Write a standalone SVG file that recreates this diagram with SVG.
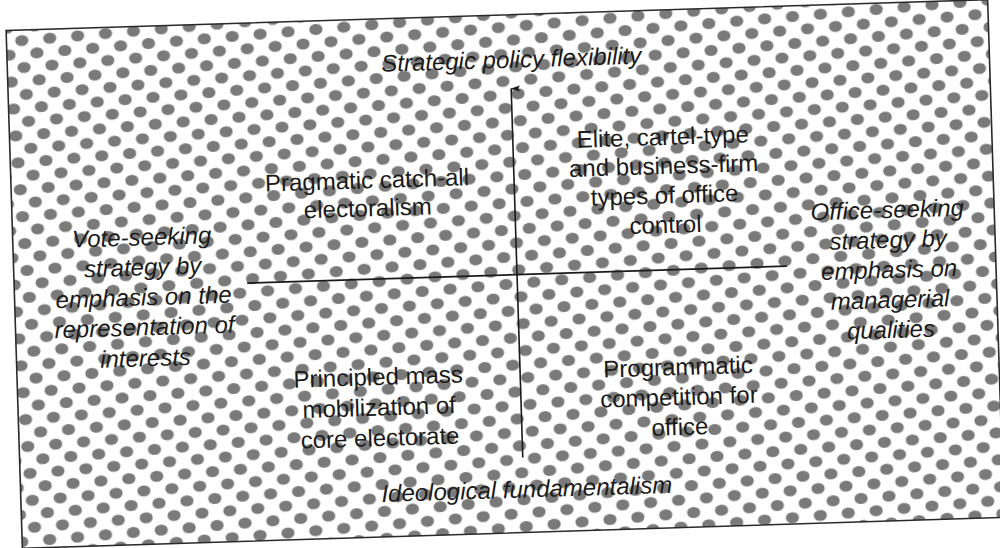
<svg xmlns="http://www.w3.org/2000/svg" width="1000" height="548" viewBox="0 0 1000 548">
  <style>
    .lbl { font-family: "Liberation Sans", Arial, sans-serif; font-size: 24px; fill: #1a1a1a; text-anchor: middle; }
    .ax { font-style: italic; }
    .axis { stroke: #1a1a1a; stroke-width: 1.6; fill: none; }
  </style>
  <defs>
    <pattern id="dots" patternUnits="userSpaceOnUse" width="28" height="27" patternTransform="rotate(-3)">
      <rect width="28" height="27" fill="#ffffff"/>
      <ellipse cx="0" cy="0" rx="6.6" ry="5.6" fill="#7a7a7a"/>
      <ellipse cx="28" cy="0" rx="6.6" ry="5.6" fill="#7a7a7a"/>
      <ellipse cx="0" cy="27" rx="6.6" ry="5.6" fill="#7a7a7a"/>
      <ellipse cx="28" cy="27" rx="6.6" ry="5.6" fill="#7a7a7a"/>
      <ellipse cx="14" cy="13.5" rx="6.6" ry="5.6" fill="#7a7a7a"/>
    </pattern>
    <marker id="arrow" markerWidth="8" markerHeight="12" refX="4" refY="1" orient="auto-start-reverse" markerUnits="userSpaceOnUse" viewBox="0 0 8 12">
      <path d="M4,0 L7,10 L4,8 L1,10 Z" fill="#1a1a1a"/>
    </marker>
  </defs>
  <rect width="1000" height="548" fill="#ffffff"/>
  <g transform="rotate(-1.8 505 274)">
    <rect id="frame" x="14" y="15" width="982" height="518" fill="url(#dots)" stroke="#2a2a2a" stroke-width="1.6"/>
    <g id="connectors">
      <line class="axis" x1="517" y1="458" x2="517" y2="89" marker-end="url(#arrow)"/>
      <line class="axis" x1="247" y1="275" x2="787" y2="275"/>
    </g>
    <g id="axis-top">
      <text class="lbl ax" x="518" y="68">Strategic policy flexibility</text>
    </g>
    <g id="axis-bottom">
      <text class="lbl ax" x="520" y="498">Ideological fundamentalism</text>
    </g>
    <g id="axis-left">
      <text class="lbl ax" x="143" y="234">Vote-seeking</text>
      <text class="lbl ax" x="143" y="264">strategy by</text>
      <text class="lbl ax" x="143" y="294">emphasis on the</text>
      <text class="lbl ax" x="143" y="324">representation of</text>
      <text class="lbl ax" x="143" y="355">interests</text>
    </g>
    <g id="axis-right">
      <text class="lbl ax" x="889" y="230">Office-seeking</text>
      <text class="lbl ax" x="889" y="260">strategy by</text>
      <text class="lbl ax" x="889" y="290">emphasis on</text>
      <text class="lbl ax" x="889" y="320">managerial</text>
      <text class="lbl ax" x="889" y="350">qualities</text>
    </g>
    <g id="q-top-left">
      <text class="lbl" x="370" y="184">Pragmatic catch-all</text>
      <text class="lbl" x="370" y="212">electoralism</text>
    </g>
    <g id="q-top-right">
      <text class="lbl" x="667" y="150">Elite, cartel-type</text>
      <text class="lbl" x="667" y="179">and business-firm</text>
      <text class="lbl" x="667" y="208.5">types of office</text>
      <text class="lbl" x="667" y="238">control</text>
    </g>
    <g id="q-bottom-left">
      <text class="lbl" x="375" y="381">Principled mass</text>
      <text class="lbl" x="375" y="411.5">mobilization of</text>
      <text class="lbl" x="375" y="442">core electorate</text>
    </g>
    <g id="q-bottom-right">
      <text class="lbl" x="675" y="380.5">Programmatic</text>
      <text class="lbl" x="675" y="410.5">competition for</text>
      <text class="lbl" x="675" y="440.5">office</text>
    </g>
  </g>
</svg>
